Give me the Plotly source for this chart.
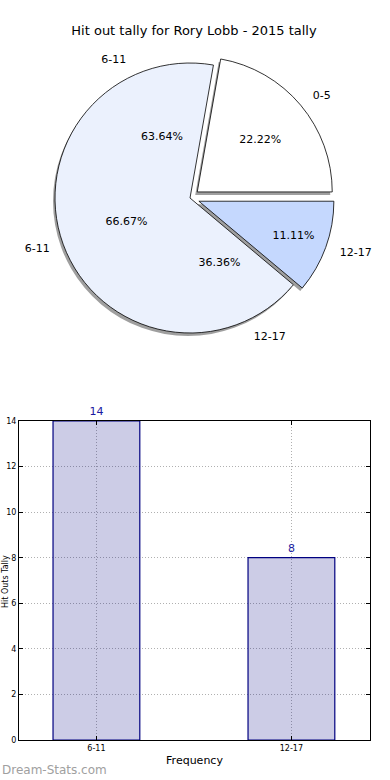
import plotly.graph_objects as go

# ---- data ----
title_text = "Hit out tally for Rory Lobb - 2015 tally"
pie1_labels = ["0-5", "6-11", "12-17"]
pie1_values = [2, 6, 1]
pie2_labels = ["6-11", "12-17"]
pie2_values = [14, 8]
bar_categories = ["6-11", "12-17"]
bar_values = [14, 8]

W, H = 390, 780

def px_dom(cx, cy, side):
    x0, x1 = (cx - side / 2) / W, (cx + side / 2) / W
    y0, y1 = 1 - (cy + side / 2) / H, 1 - (cy - side / 2) / H
    return dict(x=[x0, x1], y=[y0, y1])

def start_east(values):
    # rotation so the first slice starts at 3 o'clock and runs counterclockwise
    return 90 - 360.0 * values[0] / sum(values)

R = 135
LBL = 1.08
PULL = 0.07
CX, CY = 190, 198
side1 = R * (2 + 2 * PULL)
side2 = R * 2
pull1 = [PULL, 0, PULL]
rot1 = start_east(pie1_values)
rot2 = start_east(pie2_values)

fig = go.Figure()

common = dict(sort=False, direction="counterclockwise",
              showlegend=False, hoverinfo="skip", automargin=False)
lblfont = dict(color="#000000", size=11, family="DejaVu Sans")

# shadow
fig.add_trace(go.Pie(labels=pie1_labels, values=pie1_values, pull=pull1, rotation=rot1,
                     domain=px_dom(CX - 2, CY + 3, side1),
                     marker=dict(colors=["rgba(80,80,80,0.55)"] * 3, line=dict(width=0)),
                     textinfo="none", **common))
# main pie
fig.add_trace(go.Pie(labels=pie1_labels, values=pie1_values, pull=pull1, rotation=rot1,
                     domain=px_dom(CX, CY, side1),
                     marker=dict(colors=["#ffffff", "#ebf1fd", "#c5d8fe"],
                                 line=dict(color="#000000", width=0.8)),
                     textinfo="percent", texttemplate="%{percent:.2%}",
                     textposition="inside", insidetextorientation="horizontal",
                     insidetextfont=lblfont, **common))
# main pie labels
fig.add_trace(go.Pie(labels=pie1_labels, values=pie1_values, pull=pull1, rotation=rot1,
                     domain=px_dom(CX, CY, side1 * LBL),
                     marker=dict(colors=["rgba(0,0,0,0)"] * 3, line=dict(width=0)),
                     textinfo="label", textposition="outside",
                     outsidetextfont=lblfont, **common))
# second pie percent (transparent)
fig.add_trace(go.Pie(labels=pie2_labels, values=pie2_values, rotation=rot2,
                     domain=px_dom(CX, CY, side2),
                     marker=dict(colors=["rgba(0,0,0,0)"] * 2, line=dict(width=0)),
                     textinfo="percent", texttemplate="%{percent:.2%}",
                     textposition="inside", insidetextorientation="horizontal",
                     insidetextfont=lblfont, **common))
# second pie labels
fig.add_trace(go.Pie(labels=pie2_labels, values=pie2_values, rotation=rot2,
                     domain=px_dom(CX, CY, side2 * LBL),
                     marker=dict(colors=["rgba(0,0,0,0)"] * 2, line=dict(width=0)),
                     textinfo="label", textposition="outside",
                     outsidetextfont=lblfont, **common))

# bar chart
fig.add_trace(go.Bar(x=bar_categories, y=bar_values, width=0.445,
                     marker=dict(color="rgba(0,0,128,0.2)", line=dict(color="#000080", width=1.2)),
                     text=[str(v) for v in bar_values], textposition="outside",
                     textfont=dict(color="#1a1aa0", size=11, family="DejaVu Sans"),
                     cliponaxis=False, showlegend=False, hoverinfo="skip"))

axis_common = dict(showline=True, linecolor="#000000", linewidth=1, mirror="ticks",
                   ticks="inside", ticklen=4, tickcolor="#000000", automargin=False,
                   showgrid=True, gridcolor="#b0b0b0", griddash="1px,2px", gridwidth=1,
                   zeroline=False, tickfont=dict(size=8, color="#000000", family="DejaVu Sans"))

fig.update_layout(
    width=W, height=H, autosize=False,
    margin=dict(l=0, r=0, t=0, b=0, autoexpand=False),
    paper_bgcolor="#ffffff", plot_bgcolor="#ffffff",
    font=dict(family="DejaVu Sans", color="#000000"),
    title=dict(text=title_text, x=194 / W, xanchor="center", y=1 - 30 / H, yanchor="middle",
               font=dict(size=13, color="#000000", family="DejaVu Sans")),
    xaxis=dict(domain=[19 / W, 370 / W], range=[-0.397, 1.403],
               title=dict(text="Frequency", font=dict(size=11), standoff=4),
               **axis_common),
    yaxis=dict(domain=[40 / H, 359 / H], range=[0, 14], dtick=2,
               **axis_common),
    annotations=[
        dict(text="Dream-Stats.com", x=0, y=1 - 770 / H, xref="paper", yref="paper",
             xanchor="left", yanchor="middle", showarrow=False,
             font=dict(size=12, color="#a0a0a0", family="DejaVu Sans")),
        dict(text="Hit Outs Tally", x=5 / W, y=1 - 582 / H, xref="paper", yref="paper",
             xanchor="center", yanchor="middle", showarrow=False, textangle=-90,
             font=dict(size=8, color="#000000", family="DejaVu Sans")),
    ],
)

fig.write_html("out.html", config={"displayModeBar": False, "responsive": False},
               post_script="document.body.style.margin='0';document.body.style.overflow='hidden';")
